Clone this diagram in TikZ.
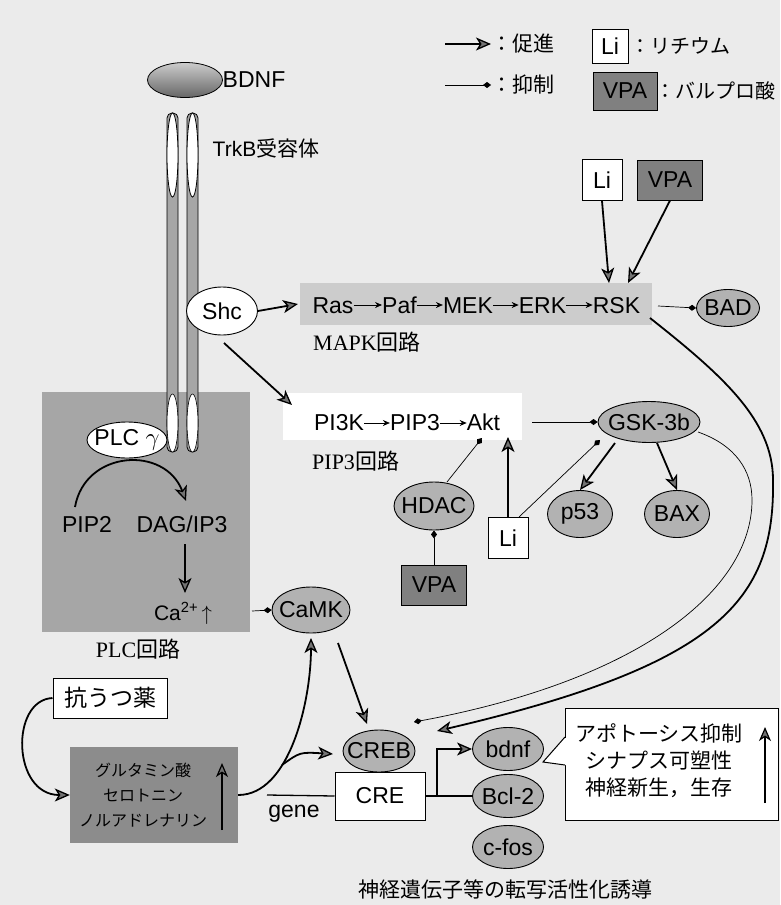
\documentclass[tikz,border=0pt]{standalone}
\usepackage{fontspec}
\setmainfont{Liberation Sans}
\newfontfamily\jp{Noto Sans CJK JP}
\newfontfamily\srf{Liberation Serif}
\newcommand\jpt[1]{{\jp #1}}
\newcommand\zb[1]{\makebox[0pt]{#1}}
\usetikzlibrary{arrows.meta,shapes.geometric,calc}
\begin{document}
\begin{tikzpicture}[x=1pt,y=-1pt,
 every node/.style={inner sep=0pt, font=\fontsize{23}{25}\selectfont},
 ell/.style={ellipse, draw, line width=0.9pt, fill=black!30},
 well/.style={ellipse, draw, line width=0.9pt, fill=white},
 libox/.style={draw, line width=1pt, fill=white, minimum width=40, minimum height=41},
 vpabox/.style={draw, line width=1pt, fill=black!50, minimum width=65, minimum height=40},
 promote/.style={line width=1.8pt, -{Stealth[length=15pt,width=13pt,inset=4pt,fill=black!55,line width=1.3pt]}},
 uparrow/.style={line width=1.3pt, -{Stealth[length=14pt,width=12pt,inset=4pt,fill=black!55,line width=1.2pt]}},
 inhibit/.style={line width=0.7pt, -{Diamond[length=8pt,width=6pt]}},
 small/.style={line width=0.8pt, -{Stealth[length=7pt,width=6pt]}},
 serif/.style={font=\srf\fontsize{22}{24}\selectfont},
]
% background
\fill[black!8] (0,0) rectangle (780,905);
\useasboundingbox (0,0) rectangle (780,905);
% regions
\fill[black!20] (300,283) rectangle (652,325);
\fill[white] (283,393) rectangle (522,440);
\fill[black!35] (42,392) rectangle (250,632);

% legend
\coordinate (lga) at (445,44); \coordinate (lgb) at (491,44);
\coordinate (lgc) at (445,85); \coordinate (lgd) at (491,85);
\draw[promote] (lga) -- (lgb);
\draw[inhibit] (lgc) -- (lgd);
\node[anchor=west, font=\jp\fontsize{21}{23}\selectfont] (lgt1) at (491,44) {：促進};
\node[anchor=west, font=\jp\fontsize{21}{23}\selectfont] (lgt2) at (491,85) {：抑制};
\node[libox, minimum width=36, minimum height=34] (lgli) at (610,46) {Li};
\node[vpabox, minimum width=64, minimum height=38] (lgvpa) at (625,91) {VPA};
\node[anchor=west, font=\jp\fontsize{20}{23}\selectfont] (lgt3) at (630,46) {：リチウム};
\node[anchor=west, font=\jp\fontsize{20}{23}\selectfont] (lgt4) at (655,91) {：バルプロ酸};

% BDNF and receptor
\node[ellipse, draw, line width=0.8pt, top color=black!20, bottom color=black!60, minimum width=75, minimum height=35] (bdnf) at (185,80) {};
\node (bdnft) at (254,80) {BDNF};
\node[font=\fontsize{21}{23}\selectfont] (trkb) at (266,148) {TrkB\jpt{受容体}};
\foreach \cx in {172.5,192.5} {
  \draw[line width=0.8pt, fill=black!35, rounded corners=5pt] (\cx-5.5,113) rectangle (\cx+5.5,452);
  \draw[line width=0.8pt, fill=white] (\cx,155) ellipse [x radius=5.5, y radius=42];
  \draw[line width=0.6pt, fill=white] (\cx,423) ellipse [x radius=5.5, y radius=29];
}

% Shc and MAPK
\node[well, minimum width=71, minimum height=48] (shc) at (222,311) {\zb{Shc}};
\coordinate (mrow) at (0,305);
\node[anchor=base] (ras) at (333,313) {Ras};
\node[anchor=base] (paf) at (399.5,313) {Paf};
\node[anchor=base] (mek) at (468,313) {MEK};
\node[anchor=base] (erk) at (542.5,313) {ERK};
\node[anchor=base] (rsk) at (616.5,313) {RSK};
\draw[small] (ras.east |- mrow) -- (paf.west |- mrow);
\draw[small] (paf.east |- mrow) -- (mek.west |- mrow);
\draw[small] (mek.east |- mrow) -- (erk.west |- mrow);
\draw[small] (erk.east |- mrow) -- (rsk.west |- mrow);
\node[serif, anchor=base west] (mapk) at (313,350) {MAPK\jpt{回路}};
\node[ell, minimum width=63, minimum height=37] (bad) at (728,308) {\zb{BAD}};
\coordinate (rskout) at (658,306);
\draw[inhibit] (rskout) -- (bad.west);
\coordinate (rasin) at (298,304);
\draw[promote] (shc.east) -- (rasin);
\node[libox] (li1) at (602,180) {Li};
\node[vpabox] (vpa1) at (670,180) {VPA};
\coordinate (rskin1) at (609,283);
\coordinate (rskin2) at (628,283);
\draw[promote] (li1.south) -- (rskin1);
\draw[promote] (vpa1.south) -- (rskin2);

% PIP3 pathway
\coordinate (shcout) at (224,343);
\coordinate (pi3kin) at (292,405);
\draw[promote] (shcout) -- (pi3kin);
\coordinate (prow) at (0,423);
\node[anchor=base] (pi3k) at (339,430) {PI3K};
\node[anchor=base] (pip3) at (415,430) {PIP3};
\node[anchor=base] (akt) at (483.5,430) {Akt};
\draw[small] (pi3k.east |- prow) -- (pip3.west |- prow);
\draw[small] (pip3.east |- prow) -- (akt.west |- prow);
\node[serif, anchor=base west] (pip3l) at (312,469) {PIP3\jpt{回路}};
\node[ell, minimum width=102, minimum height=41] (gsk) at (649,422) {\zb{GSK-3b}};
\coordinate (aktout) at (532,422);
\draw[inhibit] (aktout) -- (gsk.west);
\node[ell, minimum width=65, minimum height=47] (p53) at (580,514) {\zb{p53}};
\node[ell, minimum width=65, minimum height=47] (bax) at (677,514) {\zb{BAX}};
\coordinate (g1) at (615,443); \coordinate (g2) at (657,443);
\draw[promote] (g1) -- (p53.north);
\draw[promote] (g2) -- (bax.north);
\node[ell, minimum width=80, minimum height=48] (hdac) at (434,506) {\zb{HDAC}};
\node[libox] (li2) at (508,538) {Li};
\node[vpabox] (vpa2) at (434,585) {VPA};
\coordinate (hdacout) at (447,482); \coordinate (aktin) at (482,438);
\draw[inhibit] (hdacout) -- (aktin);
\coordinate (aktin2) at (508,437);
\draw[promote] (li2.north) -- (aktin2);
\coordinate (li2out) at (519,517); \coordinate (gskin) at (600,440);
\draw[inhibit] (li2out) -- (gskin);
\draw[inhibit] (vpa2.north) -- (hdac.south);

% PLC pathway
\node[well, minimum width=80, minimum height=36] (plcg) at (127,440) {\zb{PLC $\gamma$}};
\node[anchor=base] (pip2) at (87,532) {PIP2};
\node[anchor=base] (dag) at (182,532) {DAG/IP3};
\coordinate (pip2top) at (75,507);
\coordinate (dagtop) at (186,501);
\draw[promote] (pip2top) .. controls (85,450) and (165,445) .. (dagtop);
\node[anchor=base, font=\fontsize{21}{23}\selectfont] (ca) at (183,620) {Ca\textsuperscript{2+}\,$\uparrow$};
\coordinate (dagout) at (185,544); \coordinate (cain) at (185,593);
\draw[promote] (dagout) -- (cain);
\node[serif, anchor=base] (plcl) at (138,657) {PLC\jpt{回路}};
\node[ell, minimum width=78, minimum height=46] (camk) at (311,610) {\zb{CaMK}};
\coordinate (caout) at (252,611);
\draw[inhibit] (caout) -- (camk.west);

% transcription
\node[draw, fill=white, line width=1pt, minimum width=90, minimum height=48] (cre) at (380,796) {CRE};
\node[ell, minimum width=72, minimum height=42] (creb) at (379,751) {\zb{CREB}};
\node[anchor=base] (gene) at (294,817) {gene};
\coordinate (genein) at (267,795);
\draw[line width=1.3pt] (genein) -- (cre.west);
\node[ell, minimum width=71, minimum height=43] (bdnfg) at (508,749) {\zb{bdnf}};
\node[ell, minimum width=71, minimum height=43] (bcl) at (508,796) {\zb{Bcl-2}};
\node[ell, minimum width=71, minimum height=43] (cfos) at (508,847) {\zb{c-fos}};
\coordinate (crej) at (437,796);
\draw[line width=1.3pt] (cre.east) -- (bcl.west);
\draw[promote] (crej) |- (bdnfg.west);
\coordinate (camkout) at (338,643); \coordinate (crebin) at (367,724);
\draw[promote] (camkout) -- (crebin);

% long curves to CREB
\coordinate (rskend) at (437,731);
\coordinate (rskstart) at (650,318);
\draw[promote]
  (rskstart) .. controls (722,375) and (773,420) .. (773,480)
  .. controls (775,600) and (720,665) .. (rskend);
\coordinate (gskend) at (414,722);
\coordinate (gskstart) at (698,432);
\draw[inhibit] (gskstart) .. controls (735,445) and (752,470) .. (752,500)
  .. controls (752,590) and (640,680) .. (gskend);

% callout
\node[draw, fill=white, line width=1pt, minimum width=213, minimum height=112] (callout) at (671.5,764) {};
\coordinate (tailtip) at (543,762);
\fill[white] (564,738) -- (tailtip) -- (564,765) -- (567,765) -- (567,738) -- cycle;
\draw[line width=1pt] (565,737) -- (tailtip) -- (565,765);
\node[align=center, font=\jp\fontsize{21}{27}\selectfont] (outtxt) at (659,761) {アポトーシス抑制\\シナプス可塑性\\神経新生，生存};
\coordinate (ua1) at (765,803); \coordinate (ua2) at (765,727);
\draw[uparrow] (ua1) -- (ua2);
\node[font=\jp\fontsize{21}{24}\selectfont] (caption) at (505,889) {神経遺伝子等の転写活性化誘導};

% antidepressant
\node[draw, fill=white, line width=1pt, minimum width=114, minimum height=40, font=\jp\fontsize{23}{26}\selectfont] (ad) at (110,698) {抗うつ薬};
\node[fill=black!45, minimum width=168, minimum height=96] (nt) at (154,795) {};
\node[align=center, font=\jp\fontsize{16}{25}\selectfont] (nttxt) at (143,795) {グルタミン酸\\セロトニン\\ノルアドレナリン};
\coordinate (nu1) at (222,830); \coordinate (nu2) at (222,763);
\draw[uparrow] (nu1) -- (nu2);
\draw[promote] (ad.west) .. controls (10,700) and (12,795) .. (nt.west);
\coordinate (camkin) at (311,638);
\draw[promote] (nt.east) .. controls (290,795) and (311,700) .. (camkin);
\coordinate (branch) at (282,765);
\coordinate (crebin2) at (333,754);
\draw[promote] (branch) .. controls (300,752) .. (crebin2);
\end{tikzpicture}
\end{document}
